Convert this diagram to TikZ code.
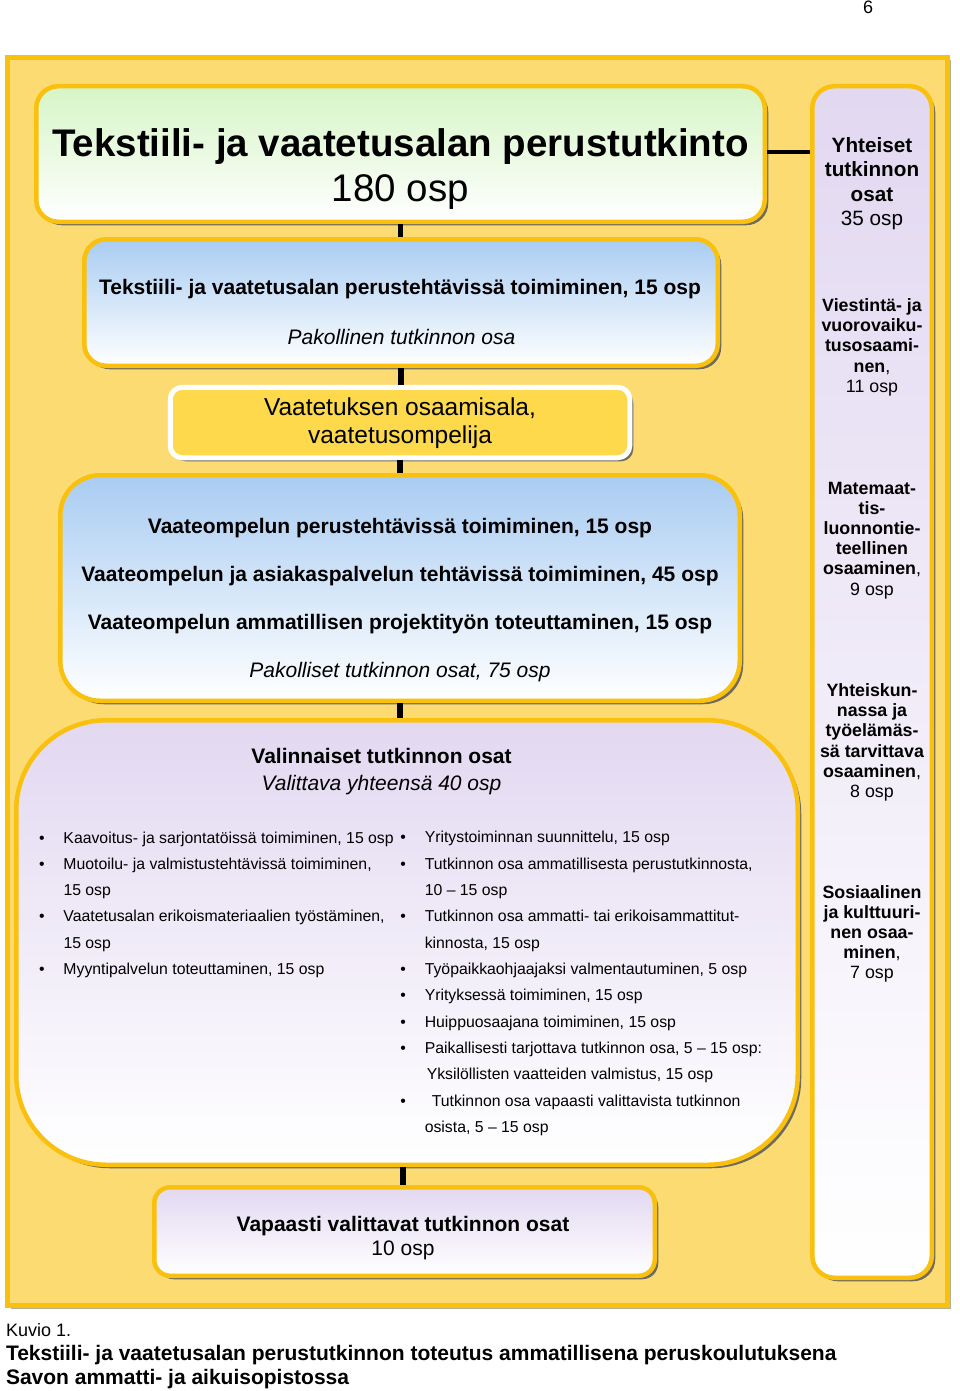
\documentclass[tikz,border=0pt]{standalone}
\usepackage{fontspec}
\setmainfont{Liberation Sans}
\usetikzlibrary{shadows}
\definecolor{gold}{HTML}{F9C00E}
\definecolor{framefill}{HTML}{FDDB73}
\definecolor{frameshadow}{HTML}{B3AF93}
\definecolor{shadowc}{HTML}{6F6B5F}
\definecolor{greentop}{HTML}{D6F5C6}
\definecolor{bluetop}{HTML}{A9CCF2}
\definecolor{lavtop}{HTML}{E2D8F1}
\definecolor{yellowbox}{HTML}{FDD94B}
\newcommand{\fsz}[2]{\fontsize{#1}{#2}\selectfont}
\newcommand{\mlc}[1]{\begin{tabular}[t]{@{}c@{}}#1\end{tabular}}
\newcommand{\mll}[1]{\begin{tabular}[t]{@{}l@{}}#1\end{tabular}}
\newcommand{\bul}{\makebox[24.5pt][l]{\textbullet}}
\newcommand{\nobul}{\makebox[24.5pt][l]{}}
\tikzset{
  boxshadow/.style={drop shadow={shadow xshift=3.5pt, shadow yshift=-3.5pt, fill=shadowc, opacity=1}},
  goldbox/.style={draw=gold, line width=4.5pt, inner sep=0pt, outer sep=0pt, boxshadow},
  conn/.style={line width=5.5pt, draw=black},
  txt/.style={inner sep=0pt, outer sep=0pt, anchor=base},
  ltxt/.style={inner sep=0pt, outer sep=0pt, anchor=base west},
}
\begin{document}
\begin{tikzpicture}[x=1pt,y=-1pt]
\useasboundingbox (0,0) rectangle (960,1391);
% outer frame
\node[draw=gold, line width=5pt, fill=framefill, inner sep=0pt, outer sep=0pt,
  minimum width=940pt, minimum height=1248pt,
  drop shadow={shadow xshift=3pt, shadow yshift=-3pt, fill=frameshadow, opacity=1}] (frame) at (477.5,681.5) {};
% boxes
\node[goldbox, rounded corners=22pt, top color=greentop, bottom color=white,
  minimum width=728.5pt, minimum height=135.5pt] (title) at (400.5,154) {};
\node[goldbox, rounded corners=22pt, top color=lavtop, bottom color=white,
  minimum width=119.5pt, minimum height=1191.5pt] (col) at (872,682) {};
\node[goldbox, rounded corners=22pt, top color=bluetop, bottom color=white,
  minimum width=633.5pt, minimum height=126.5pt] (p2) at (401,302.5) {};
\node[draw=white, line width=5pt, fill=yellowbox, rounded corners=12pt, inner sep=0pt, outer sep=0pt, boxshadow,
  minimum width=459.5pt, minimum height=70.5pt] (p3) at (400,422.5) {};
\node[goldbox, rounded corners=40pt, top color=bluetop, bottom color=white,
  minimum width=679.5pt, minimum height=225.5pt] (p4) at (400,588) {};
\node[goldbox, rounded corners=90pt, top color=lavtop, bottom color=white,
  minimum width=781.5pt, minimum height=444.5pt] (p5) at (407,942.5) {};
\node[goldbox, rounded corners=16pt, top color=lavtop, bottom color=white,
  minimum width=500.5pt, minimum height=88.5pt] (p6) at (404.5,1231.5) {};
% connectors
\draw[conn] ([yshift=-2.5pt]title.south) -- ([yshift=2.5pt]title.south |- p2.north);
\draw[conn] ([yshift=-2.5pt]p2.south) -- ([yshift=2.5pt]p2.south |- p3.north);
\draw[conn] ([yshift=-2.5pt]p3.south) -- ([yshift=2.5pt]p3.south |- p4.north);
\draw[conn] ([yshift=-2.5pt]p4.south) -- ([yshift=2.5pt]p4.south |- p5.north);
\draw[conn] ([xshift=-1.5pt,yshift=-2.5pt]p6.north |- p5.south) -- ([xshift=-1.5pt,yshift=2.5pt]p6.north);
\draw[line width=4.5pt] ([xshift=2.5pt,yshift=2pt]title.east) -- ([xshift=-2.5pt,yshift=2pt]title.east -| col.west);
% texts
\node[txt] (pg) at (868,13.3) {\fsz{18}{20}6};
\node[txt] (tt) at (400.5,157) {\fsz{38.5}{45}\bfseries\mlc{Tekstiili- ja vaatetusalan perustutkinto\\\mdseries 180 osp}};
\node[txt] (c0) at (872,152.7) {\fsz{20.7}{24.3}\bfseries\mlc{Yhteiset\\tutkinnon\\osat\\\mdseries 35 osp}};
\node[txt] (c1) at (872,311.7) {\fsz{17.8}{20.1}\bfseries\mlc{Viestintä- ja\\vuorovaiku-\\tusosaami-\\nen{\mdseries,}\\\mdseries 11 osp}};
\node[txt] (c2) at (872,494.5) {\fsz{17.8}{20.1}\bfseries\mlc{Matemaat-\\tis-\\luonnontie-\\teellinen\\osaaminen{\mdseries,}\\\mdseries 9 osp}};
\node[txt] (c3) at (872,696.5) {\fsz{17.8}{20.2}\bfseries\mlc{Yhteiskun-\\nassa ja\\työelämäs-\\sä tarvittava\\osaaminen{\mdseries,}\\\mdseries 8 osp}};
\node[txt] (c4) at (872,898) {\fsz{17.8}{20.2}\bfseries\mlc{Sosiaalinen\\ja kulttuuri-\\nen osaa-\\minen{\mdseries,}\\\mdseries 7 osp}};
\node[txt] (t2a) at (400,294) {\fsz{21}{24}\bfseries Tekstiili- ja vaatetusalan perustehtävissä toimiminen, 15 osp};
\node[txt] (t2b) at (401.5,344) {\fsz{21}{24}\itshape Pakollinen tutkinnon osa};
\node[txt] (t3) at (400,415) {\fsz{24.5}{28}\mlc{Vaatetuksen osaamisala,\\vaatetusompelija}};
\node[txt] (t4) at (400,533) {\fsz{21}{48.3}\bfseries\mlc{Vaateompelun perustehtävissä toimiminen, 15 osp\\Vaateompelun ja asiakaspalvelun tehtävissä toimiminen, 45 osp\\Vaateompelun ammatillisen projektityön toteuttaminen, 15 osp\\\mdseries\itshape Pakolliset tutkinnon osat, 75 osp}};
\node[txt] (t5) at (381.5,763.3) {\fsz{21}{26.7}\bfseries\mlc{Valinnaiset tutkinnon osat\\\mdseries\itshape Valittava yhteensä 40 osp}};
\node[ltxt] (l1) at (39,843.2) {\fsz{15.8}{26.2}\mll{\bul Kaavoitus- ja sarjontatöissä toimiminen, 15 osp\\\bul Muotoilu- ja valmistustehtävissä toimiminen,\\\nobul 15 osp\\\bul Vaatetusalan erikoismateriaalien työstäminen,\\\nobul 15 osp\\\bul Myyntipalvelun toteuttaminen, 15 osp}};
\node[ltxt] (l2) at (400.3,842.7) {\fsz{15.8}{26.35}\mll{\bul Yritystoiminnan suunnittelu, 15 osp\\\bul Tutkinnon osa ammatillisesta perustutkinnosta,\\\nobul 10 – 15 osp\\\bul Tutkinnon osa ammatti- tai erikoisammattitut-\\\nobul kinnosta, 15 osp\\\bul Työpaikkaohjaajaksi valmentautuminen, 5 osp\\\bul Yrityksessä toimiminen, 15 osp\\\bul Huippuosaajana toimiminen, 15 osp\\\bul Paikallisesti tarjottava tutkinnon osa, 5 – 15 osp:\\\nobul\hspace{2pt}Yksilöllisten vaatteiden valmistus, 15 osp\\\bul\hspace{7pt}Tutkinnon osa vapaasti valittavista tutkinnon\\\nobul osista, 5 – 15 osp}};
\node[txt] (t6) at (403,1231.5) {\fsz{21}{24}\bfseries\mlc{Vapaasti valittavat tutkinnon osat\\\mdseries 10 osp}};
\node[ltxt] (cap1) at (6,1336.5) {\fsz{18}{21}Kuvio 1.};
\node[ltxt] (cap2) at (6,1360) {\fsz{21}{24}\bfseries\mll{Tekstiili- ja vaatetusalan perustutkinnon toteutus ammatillisena peruskoulutuksena\\Savon ammatti- ja aikuisopistossa}};
\end{tikzpicture}
\end{document}
